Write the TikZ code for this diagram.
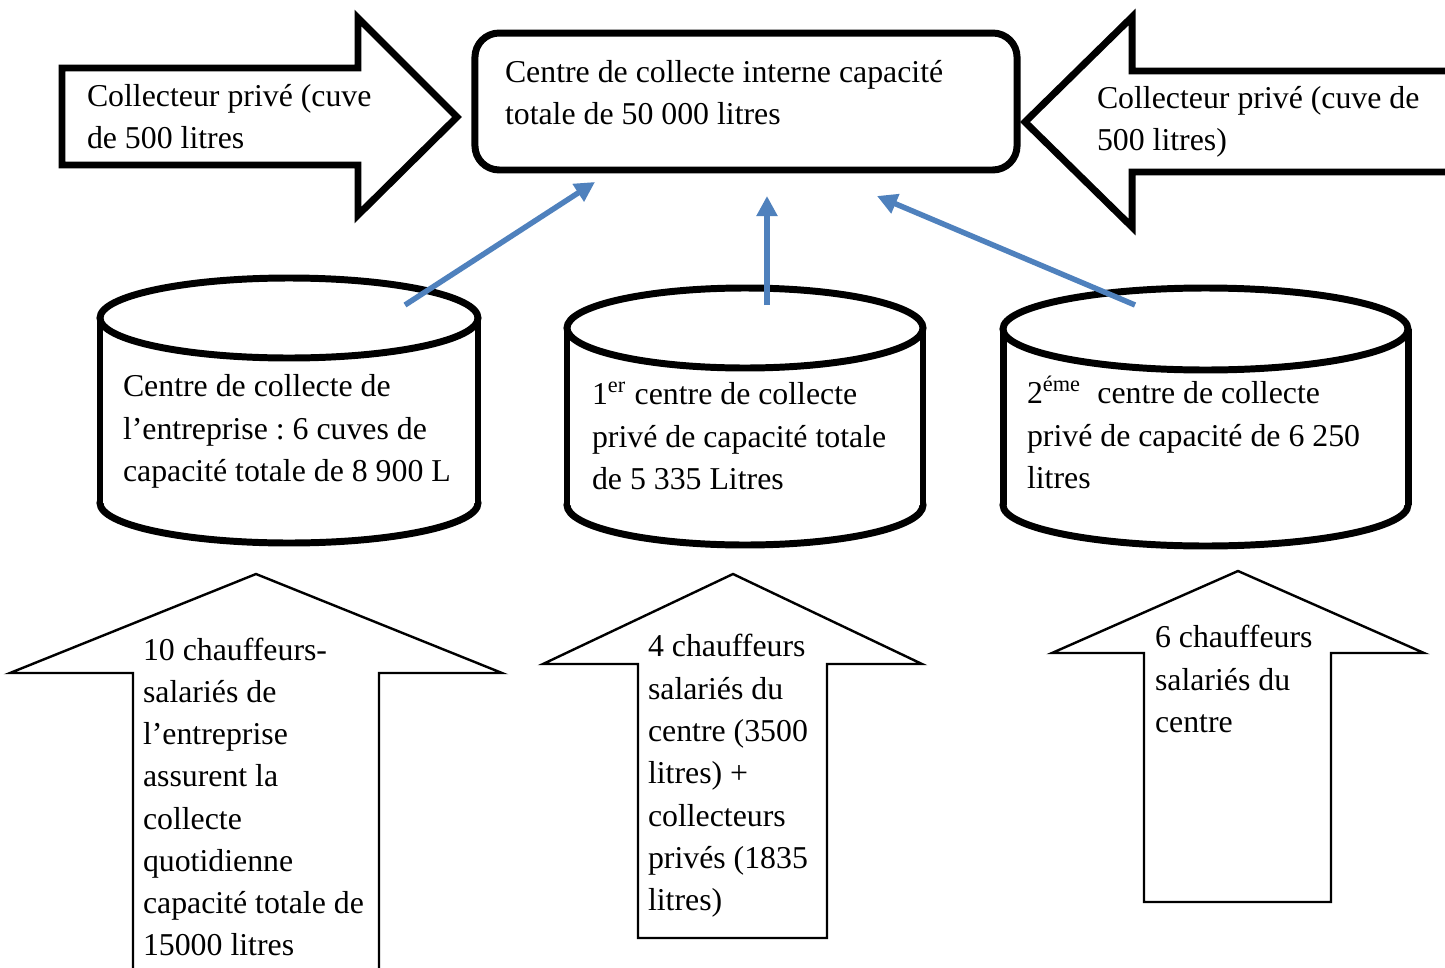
\documentclass[tikz,border=0pt]{standalone}
\usepackage{fontspec}
\setmainfont{Liberation Serif}
\usetikzlibrary{arrows.meta}
\definecolor{flowblue}{RGB}{79,129,189}
\frenchspacing
% tank: centre x, x radius, top y, bottom y, y radius
\newcommand{\drawtank}[5]{%
  \path[heavy] (#1,#4) ellipse[x radius=#2, y radius=#5];
  \fill[white] ({#1-#2},#3) rectangle ({#1+#2},#4);
  \draw[line width=2.3pt] ({#1-#2},#3) -- ({#1-#2},#4) ({#1+#2},#3) -- ({#1+#2},#4);
  \path[heavy] (#1,#3) ellipse[x radius=#2, y radius=#5];
}
\begin{document}
% text nodes are placed by the baseline of their last line
\begin{tikzpicture}[x=0.33pt, y=-0.33pt,
  heavy/.style={draw=black, line width=2.3pt, line join=miter, fill=white},
  light/.style={draw=black, line width=0.8pt, fill=white},
  label/.style={anchor=base west, align=left, inner sep=0pt, outer sep=0pt,
    font=\fontsize{10.5}{13.95}\selectfont\frenchspacing},
  feed/.style={draw=flowblue, line width=1.8pt, -{Triangle[length=6.6pt, width=6.6pt]}}
]
\useasboundingbox (0,0) rectangle (1445,967);
\fill[white] (0,0) rectangle (1445,967);
\clip (0,0) rectangle (1445,967);

% private collectors feeding the central store
\path[heavy] (62,68) -- (358,68) -- (358,18) -- (457,117) -- (358,215) -- (358,165) -- (62,165) -- cycle;
\node[label] (privL) at (87,148.3) {Collecteur privé (cuve\\de 500 litres};

\path[heavy] (1470,71) -- (1132,71) -- (1132,17) -- (1025,122) -- (1132,227) -- (1132,172) -- (1470,172) -- cycle;
\node[label] (privR) at (1097,150.3) {Collecteur privé (cuve de\\500 litres)};

% central store
\node[heavy, rounded corners=8pt, minimum width=178.9pt, minimum height=45.2pt,
  inner sep=0pt, outer sep=0pt] (centre) at (746,101.5) {};
\node[label] (centreText) at (505,124.3) {Centre de collecte interne capacité\\totale de 50 000 litres};

% collection tanks
\drawtank{289}{189}{318}{503}{40}
\drawtank{745}{178}{328}{505}{40}
\drawtank{1205.5}{202.5}{329}{505}{41}
\node[label] (tankA) at (123,481.5) {Centre de collecte de\\l’entreprise : 6 cuves de\\capacité totale de 8 900 L};
\node[label] (tankB) at (592,489.5) {1\textsuperscript{er} centre de collecte\\privé de capacité totale\\de 5 335 Litres};
\node[label] (tankC) at (1027,488.5) {2\textsuperscript{éme}~ centre de collecte\\privé de capacité de 6 250\\litres};

% drivers supplying each tank
\path[light] (256,574) -- (502,673) -- (379,673) -- (379,1000) -- (133,1000) -- (133,673) -- (10,673) -- cycle;
\node[label] (driversA) at (143,955.9) {10 chauffeurs-\\salariés de\\l’entreprise\\assurent la\\collecte\\quotidienne\\capacité totale de\\15000 litres};

\path[light] (733,574) -- (922,664) -- (827,664) -- (827,938) -- (638,938) -- (638,664) -- (543,664) -- cycle;
\node[label] (driversB) at (648,910.6) {4 chauffeurs\\salariés du\\centre (3500\\litres) +\\collecteurs\\privés (1835\\litres)};

\path[light] (1238,571) -- (1424,653) -- (1331,653) -- (1331,902) -- (1144,902) -- (1144,653) -- (1052,653) -- cycle;
\node[label] (driversC) at (1155,732.5) {6 chauffeurs\\salariés du\\centre};

% transfers to the central store
\coordinate (outA) at (405,305);
\coordinate (outB) at (767,305);
\coordinate (outC) at (1135,305);
\coordinate (inA) at (595,182);
\coordinate (inB) at (767,196);
\coordinate (inC) at (877,196);
\draw[feed] (outA) -- (inA);
\draw[feed] (outB) -- (inB);
\draw[feed] (outC) -- (inC);
\end{tikzpicture}
\end{document}
